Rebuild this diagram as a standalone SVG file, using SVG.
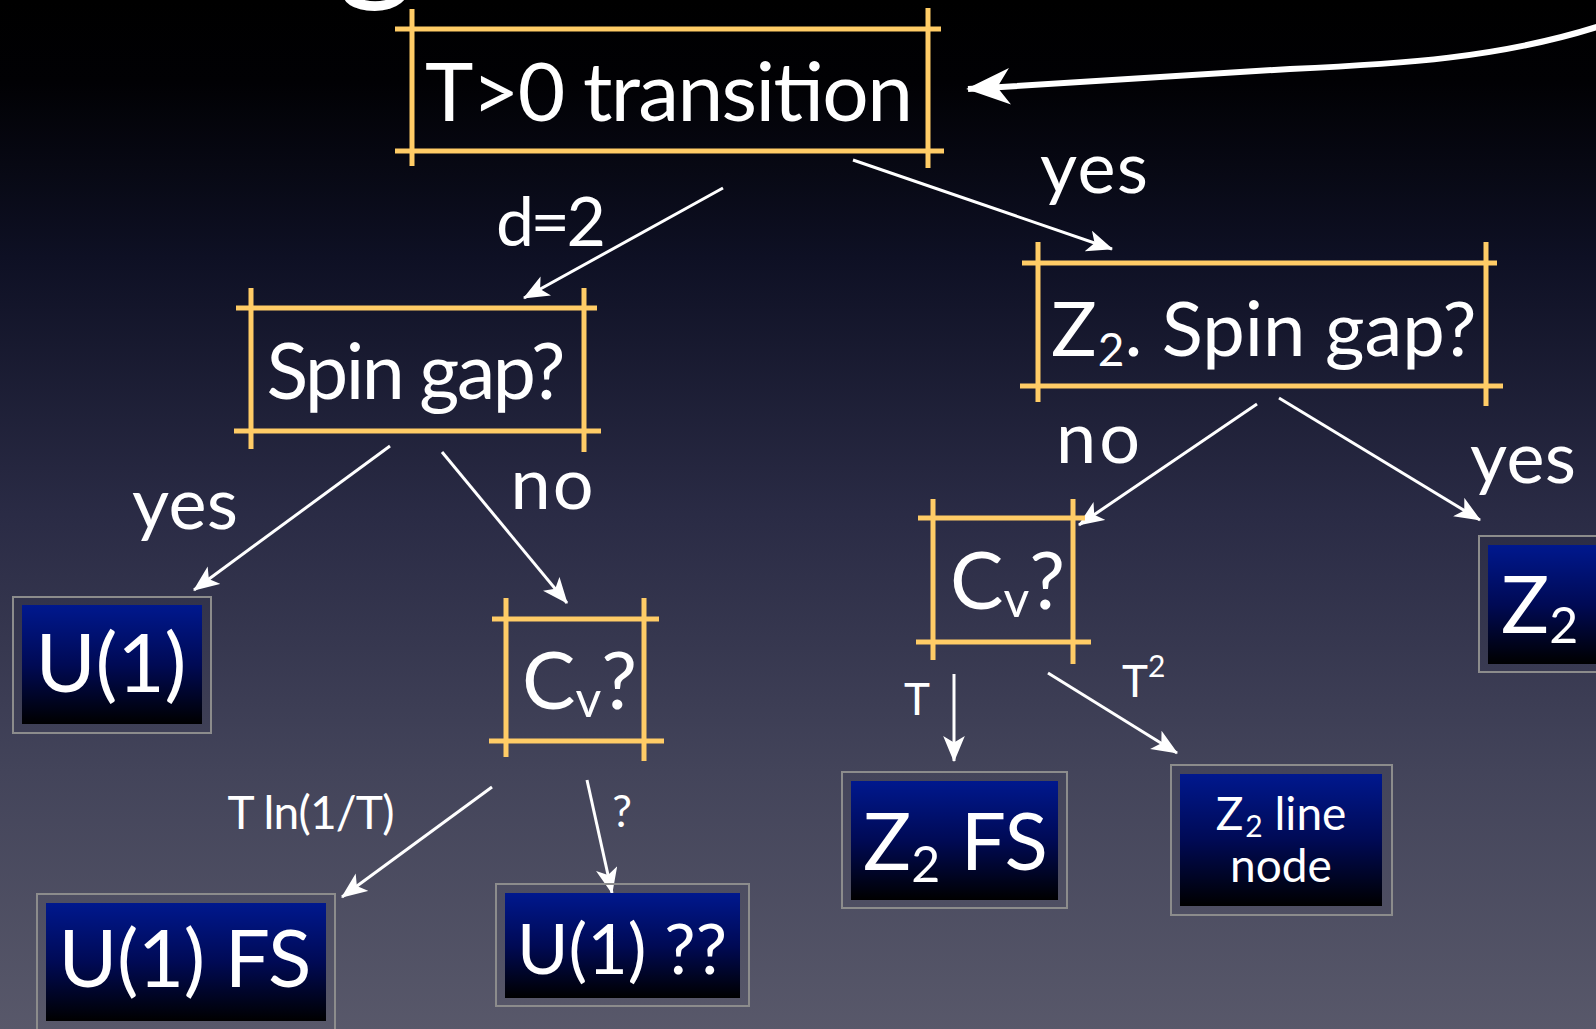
<svg xmlns="http://www.w3.org/2000/svg" width="1596" height="1029" viewBox="0 0 1596 1029">
<defs>
<linearGradient id="bg" x1="0" y1="0" x2="0" y2="1">
<stop offset="0" stop-color="#000000"/>
<stop offset="0.08" stop-color="#010104"/>
<stop offset="0.25" stop-color="#0e1024"/>
<stop offset="0.5" stop-color="#2a2b45"/>
<stop offset="0.75" stop-color="#43445a"/>
<stop offset="1" stop-color="#58586a"/>
</linearGradient>
<linearGradient id="blue" x1="0" y1="0" x2="0" y2="1">
<stop offset="0" stop-color="#00188e"/>
<stop offset="0.5" stop-color="#000a55"/>
<stop offset="1" stop-color="#000000"/>
</linearGradient>
<marker id="ah" viewBox="0 0 24 20" refX="23" refY="10" markerWidth="26" markerHeight="22" markerUnits="userSpaceOnUse" orient="auto">
<path d="M0,0 L24,10 L0,20 L6,10 z" fill="#ffffff"/>
</marker>
<marker id="ahBig" viewBox="0 0 24 20" refX="23" refY="10" markerWidth="44" markerHeight="38" markerUnits="userSpaceOnUse" orient="auto">
<path d="M0,0 L24,10 L0,20 L7,10 z" fill="#ffffff"/>
</marker>
</defs>
<style>
.frame line{stroke:#ffcc66;stroke-width:5;}
.t{font-family:Lato,"Open Sans","DejaVu Sans",sans-serif;fill:#ffffff;}
.outer{fill:none;stroke:#8c8c8c;stroke-width:2;}
.inner{fill:url(#blue);}
.conn line,.conn path{stroke:#ffffff;stroke-width:3;fill:none;marker-end:url(#ah);}
</style>
<rect x="0" y="0" width="1596" height="1029" fill="url(#bg)"/>
<text class="t" x="376" y="-16" font-size="150" text-anchor="middle">g</text>

<g id="connectors" class="conn">
<path d="M1600,26 C1500,58 1400,64 1290,69 L968,89" style="stroke-width:6;marker-end:url(#ahBig)"/>
<line x1="723" y1="188" x2="524" y2="298"/>
<line x1="853" y1="160" x2="1112" y2="249"/>
<line x1="390" y1="446" x2="194" y2="590"/>
<line x1="442" y1="452" x2="567" y2="603"/>
<line x1="492" y1="787" x2="342" y2="897"/>
<line x1="587" y1="780" x2="612" y2="893"/>
<line x1="1257" y1="404" x2="1079" y2="525"/>
<line x1="1279" y1="398" x2="1480" y2="520"/>
<line x1="954" y1="674" x2="954" y2="761"/>
<line x1="1048" y1="673" x2="1177" y2="753"/>
</g>

<g id="labels">
<text class="t" x="551" y="246" font-size="68" text-anchor="middle" textLength="110">d=2</text>
<text class="t" x="1094" y="193" font-size="72" text-anchor="middle" textLength="108">yes</text>
<text class="t" x="185" y="529" font-size="72" text-anchor="middle" textLength="106">yes</text>
<text class="t" x="552" y="509" font-size="72" text-anchor="middle" textLength="83">no</text>
<text class="t" x="1098" y="463" font-size="72" text-anchor="middle" textLength="84">no</text>
<text class="t" x="1523" y="483" font-size="72" text-anchor="middle" textLength="106">yes</text>
<text class="t" x="311" y="829" font-size="46" text-anchor="middle" textLength="167">T ln(1/T)</text>
<text class="t" x="622" y="827" font-size="44" text-anchor="middle">?</text>
<text class="t" x="917" y="715" font-size="44" text-anchor="middle">T</text>
<text class="t" x="1122" y="697" font-size="44">T<tspan font-size="30" dy="-20">2</tspan></text>
</g>

<g id="n-transition" class="frame">
<line x1="395" y1="29" x2="941" y2="29"/>
<line x1="395" y1="151" x2="944" y2="151"/>
<line x1="412" y1="9" x2="412" y2="166"/>
<line x1="928" y1="8" x2="928" y2="168"/>
<text class="t" x="669" y="121" font-size="82" text-anchor="middle" textLength="488">T&gt;0 transition</text>
</g>

<g id="n-spingap" class="frame">
<line x1="236" y1="308" x2="597" y2="308"/>
<line x1="234" y1="431" x2="601" y2="431"/>
<line x1="251" y1="288" x2="251" y2="449"/>
<line x1="584" y1="288" x2="584" y2="452"/>
<text class="t" x="416" y="399" font-size="77" text-anchor="middle" textLength="299">Spin gap?</text>
</g>

<g id="n-z2spingap" class="frame">
<line x1="1022" y1="263" x2="1497" y2="263"/>
<line x1="1020" y1="386" x2="1503" y2="386"/>
<line x1="1038" y1="242" x2="1038" y2="402"/>
<line x1="1486" y1="242" x2="1486" y2="406"/>
<text class="t" x="1051" y="356" font-size="76">Z<tspan font-size="46" dx="1" dy="10">2</tspan><tspan dy="-10">. Spin gap?</tspan></text>
</g>

<g id="n-cv-left" class="frame">
<line x1="492" y1="619" x2="659" y2="619"/>
<line x1="489" y1="741" x2="664" y2="741"/>
<line x1="506" y1="598" x2="506" y2="757"/>
<line x1="644" y1="598" x2="644" y2="761"/>
<text class="t" x="522" y="709" font-size="80">C<tspan font-size="50" dy="8">v</tspan><tspan dy="-8">?</tspan></text>
</g>

<g id="n-cv-right" class="frame">
<line x1="918" y1="518" x2="1085" y2="518"/>
<line x1="916" y1="642" x2="1091" y2="642"/>
<line x1="933" y1="499" x2="933" y2="660"/>
<line x1="1073" y1="499" x2="1073" y2="664"/>
<text class="t" x="950" y="609" font-size="80">C<tspan font-size="50" dy="8">v</tspan><tspan dy="-8">?</tspan></text>
</g>

<g id="n-u1">
<rect class="outer" x="13" y="597" width="198" height="136"/>
<rect class="inner" x="22" y="605" width="180" height="119"/>
<text class="t" x="111" y="692" font-size="82" text-anchor="middle" textLength="151">U(1)</text>
</g>

<g id="n-u1fs">
<rect class="outer" x="37" y="894" width="298" height="140"/>
<rect class="inner" x="46" y="903" width="280" height="118"/>
<text class="t" x="185" y="987" font-size="80" text-anchor="middle" textLength="253">U(1) FS</text>
</g>

<g id="n-u1qq">
<rect class="outer" x="496" y="884" width="253" height="122"/>
<rect class="inner" x="505" y="893" width="235" height="105"/>
<text class="t" x="622" y="974" font-size="70" text-anchor="middle">U(1) ??</text>
</g>

<g id="n-z2fs">
<rect class="outer" x="842" y="772" width="225" height="136"/>
<rect class="inner" x="851" y="781" width="207" height="119"/>
<text class="t" x="863" y="870" font-size="80">Z<tspan font-size="50" dy="12">2</tspan><tspan dy="-12"> FS</tspan></text>
</g>

<g id="n-z2line">
<rect class="outer" x="1171" y="765" width="221" height="150"/>
<rect class="inner" x="1180" y="774" width="202" height="132"/>
<text class="t" x="1281" y="830" font-size="46" text-anchor="middle">Z<tspan font-size="30" dx="2" dy="7">2</tspan><tspan dy="-7"> line</tspan></text>
<text class="t" x="1281" y="882" font-size="46" text-anchor="middle">node</text>
</g>

<g id="n-z2">
<rect class="outer" x="1479" y="536" width="130" height="136"/>
<rect class="inner" x="1488" y="545" width="120" height="119"/>
<text class="t" x="1501" y="633" font-size="80">Z<tspan font-size="50" dy="10">2</tspan></text>
</g>
</svg>
